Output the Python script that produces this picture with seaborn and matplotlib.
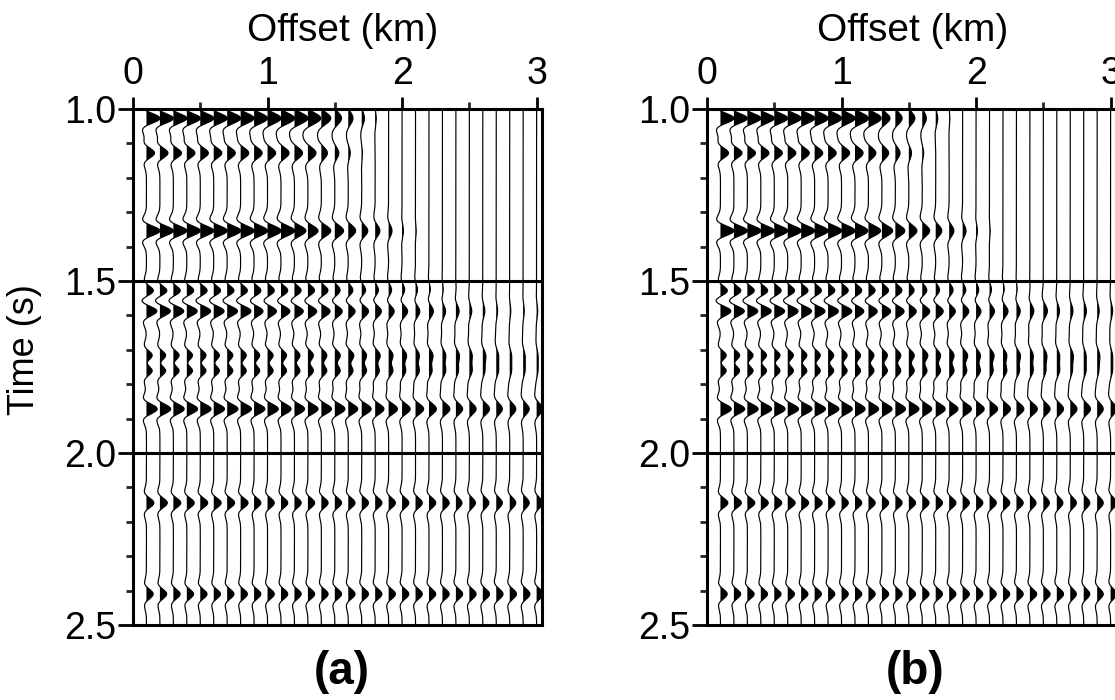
import numpy as np
import pandas as pd
import matplotlib
matplotlib.use("Agg")
import matplotlib.pyplot as plt
import seaborn as sns
from matplotlib.ticker import MultipleLocator

# ---------------------------------------------------------------------------
# Gather geometry
# ---------------------------------------------------------------------------
offsets_km = [0.1, 0.2, 0.3, 0.4, 0.5, 0.6, 0.7, 0.8, 0.9, 1.0,
              1.1, 1.2, 1.3, 1.4, 1.5, 1.6, 1.7, 1.8, 1.9, 2.0,
              2.1, 2.2, 2.3, 2.4, 2.5, 2.6, 2.7, 2.8, 2.9, 3.0]

# Reflection events: zero-offset time (s) and stacking velocity (km/s)
event_times_s = [1.027, 1.128, 1.354, 1.529, 1.587, 1.718, 1.759, 1.872, 2.145, 2.410]
event_velocity = [1.7, 1.7, 1.8, 1.8, 1.8, 1.8, 1.8, 2.3, 2.6, 2.8]

# Peak amplitude of each event on each trace (units of trace spacing)
amp_a = [
    [1.0, 1.0, 1.0, 1.0, 1.0, 1.0, 1.0, 1.0, 1.0, 1.0, 1.0, 1.0, 0.95, 0.7, 0.5,
     0.35, 0.2, 0.08, 0.0, 0.0, 0.0, 0.0, 0.0, 0.0, 0.0, 0.0, 0.0, 0.0, 0.0, 0.0],
    [0.6, 0.6, 0.6, 0.6, 0.6, 0.6, 0.6, 0.6, 0.6, 0.6, 0.6, 0.6, 0.6, 0.45, 0.3,
     0.15, 0.05, 0.0, 0.0, 0.0, 0.0, 0.0, 0.0, 0.0, 0.0, 0.0, 0.0, 0.0, 0.0, 0.0],
    [1.0, 1.0, 1.0, 1.0, 1.0, 1.0, 1.0, 1.0, 1.0, 1.0, 1.0, 0.85, 0.75, 0.7, 0.65,
     0.55, 0.45, 0.35, 0.25, 0.1, 0.05, 0.0, 0.0, 0.0, 0.0, 0.0, 0.0, 0.0, 0.0, 0.0],
    [0.55, 0.55, 0.55, 0.55, 0.55, 0.55, 0.55, 0.55, 0.55, 0.55, 0.55, 0.55, 0.55, 0.55, 0.45,
     0.4, 0.35, 0.3, 0.28, 0.25, 0.2, 0.15, 0.1, 0.05, 0.0, 0.0, 0.0, 0.0, 0.0, 0.0],
    [0.8, 0.8, 0.8, 0.8, 0.8, 0.8, 0.8, 0.8, 0.7, 0.7, 0.7, 0.7, 0.7, 0.7, 0.6,
     0.55, 0.55, 0.5, 0.45, 0.45, 0.35, 0.35, 0.25, 0.25, 0.18, 0.15, 0.1, 0.08, 0.08, 0.08],
    [0.55, 0.55, 0.55, 0.55, 0.55, 0.55, 0.55, 0.55, 0.55, 0.55, 0.55, 0.55, 0.55, 0.55, 0.55,
     0.55, 0.5, 0.5, 0.45, 0.45, 0.4, 0.4, 0.35, 0.35, 0.3, 0.3, 0.25, 0.2, 0.2, 0.15],
    [0.55, 0.55, 0.55, 0.55, 0.55, 0.55, 0.55, 0.55, 0.55, 0.55, 0.55, 0.55, 0.55, 0.55, 0.55,
     0.5, 0.5, 0.45, 0.45, 0.4, 0.4, 0.35, 0.35, 0.3, 0.3, 0.25, 0.25, 0.2, 0.2, 0.15],
    [0.8, 0.8, 0.8, 0.8, 0.8, 0.8, 0.8, 0.8, 0.8, 0.8, 0.75, 0.75, 0.75, 0.75, 0.75,
     0.7, 0.7, 0.65, 0.65, 0.6, 0.6, 0.55, 0.55, 0.5, 0.5, 0.5, 0.45, 0.45, 0.45, 0.45],
    [0.55, 0.55, 0.55, 0.55, 0.55, 0.55, 0.55, 0.55, 0.5, 0.5, 0.5, 0.5, 0.5, 0.5, 0.5,
     0.5, 0.5, 0.5, 0.5, 0.5, 0.5, 0.5, 0.5, 0.45, 0.45, 0.45, 0.45, 0.45, 0.45, 0.45],
    [0.5, 0.5, 0.5, 0.5, 0.5, 0.5, 0.5, 0.5, 0.5, 0.5, 0.5, 0.5, 0.5, 0.5, 0.5,
     0.5, 0.5, 0.5, 0.5, 0.5, 0.5, 0.5, 0.5, 0.5, 0.5, 0.5, 0.5, 0.5, 0.5, 0.5],
]

amp_b = [
    [1.0, 1.0, 1.0, 1.0, 1.0, 1.0, 1.0, 1.0, 1.0, 1.0, 1.0, 0.95, 0.6, 0.5, 0.45,
     0.3, 0.15, 0.05, 0.0, 0.0, 0.0, 0.0, 0.0, 0.0, 0.0, 0.0, 0.0, 0.0, 0.0, 0.0],
    [0.6, 0.6, 0.6, 0.6, 0.6, 0.6, 0.6, 0.6, 0.6, 0.6, 0.6, 0.55, 0.5, 0.35, 0.2,
     0.1, 0.0, 0.0, 0.0, 0.0, 0.0, 0.0, 0.0, 0.0, 0.0, 0.0, 0.0, 0.0, 0.0, 0.0],
    [1.0, 1.0, 1.0, 1.0, 1.0, 1.0, 1.0, 1.0, 1.0, 1.0, 0.95, 0.9, 0.8, 0.7, 0.6,
     0.55, 0.45, 0.35, 0.25, 0.1, 0.05, 0.0, 0.0, 0.0, 0.0, 0.0, 0.0, 0.0, 0.0, 0.0],
    [0.55, 0.55, 0.55, 0.55, 0.55, 0.55, 0.55, 0.55, 0.55, 0.55, 0.55, 0.55, 0.55, 0.55, 0.45,
     0.4, 0.35, 0.35, 0.3, 0.25, 0.2, 0.15, 0.1, 0.05, 0.0, 0.0, 0.0, 0.0, 0.0, 0.0],
    [0.8, 0.8, 0.8, 0.8, 0.8, 0.8, 0.8, 0.8, 0.8, 0.8, 0.7, 0.7, 0.7, 0.7, 0.6,
     0.6, 0.6, 0.5, 0.5, 0.4, 0.4, 0.4, 0.3, 0.3, 0.3, 0.2, 0.2, 0.2, 0.15, 0.15],
    [0.55, 0.55, 0.55, 0.55, 0.55, 0.55, 0.55, 0.55, 0.55, 0.55, 0.55, 0.55, 0.55, 0.55, 0.55,
     0.55, 0.5, 0.5, 0.5, 0.45, 0.45, 0.4, 0.4, 0.35, 0.35, 0.3, 0.3, 0.25, 0.25, 0.2],
    [0.55, 0.55, 0.55, 0.55, 0.55, 0.55, 0.55, 0.55, 0.55, 0.55, 0.55, 0.55, 0.55, 0.55, 0.55,
     0.5, 0.5, 0.5, 0.45, 0.45, 0.4, 0.4, 0.35, 0.35, 0.3, 0.3, 0.25, 0.25, 0.2, 0.2],
    [0.8, 0.8, 0.8, 0.8, 0.8, 0.8, 0.8, 0.8, 0.8, 0.8, 0.75, 0.75, 0.75, 0.75, 0.75,
     0.7, 0.7, 0.65, 0.65, 0.6, 0.6, 0.55, 0.55, 0.55, 0.5, 0.5, 0.5, 0.5, 0.45, 0.45],
    [0.55, 0.55, 0.55, 0.55, 0.55, 0.55, 0.55, 0.55, 0.5, 0.5, 0.5, 0.5, 0.5, 0.5, 0.5,
     0.5, 0.5, 0.5, 0.5, 0.5, 0.5, 0.5, 0.5, 0.45, 0.45, 0.45, 0.45, 0.45, 0.45, 0.45],
    [0.5, 0.5, 0.5, 0.5, 0.5, 0.5, 0.5, 0.5, 0.5, 0.5, 0.5, 0.5, 0.5, 0.5, 0.5,
     0.5, 0.5, 0.5, 0.5, 0.5, 0.5, 0.5, 0.5, 0.5, 0.5, 0.5, 0.45, 0.45, 0.45, 0.45],
]

panel_labels = ["(a)", "(b)"]
x_ticks = [0, 1, 2, 3]
y_ticks = [1.0, 1.5, 2.0, 2.5]

# ---------------------------------------------------------------------------
# Trace synthesis: zero-phase wavelet with soft side lobes,
# stretched with offset (NMO stretch)
# ---------------------------------------------------------------------------
PEAK_HZ = 12.0
SIDE_LOBE = 0.75
TRACE_GAP = 0.1
t = np.arange(1.0, 2.5005, 0.0005)


def wavelet(tau, f):
    a = (np.pi * f * tau) ** 2
    return (1.0 - 2.0 * SIDE_LOBE * a) * np.exp(-a)


def build_gather(amps):
    rows = []
    for k, x in enumerate(offsets_km):
        trace = np.zeros_like(t)
        for e, t0 in enumerate(event_times_s):
            a = amps[e][k]
            if a == 0:
                continue
            stretch = np.sqrt(1.0 + (x / (event_velocity[e] * t0)) ** 2)
            trace += a * wavelet((t - t0) / stretch, PEAK_HZ)
        rows.append(pd.DataFrame({"trace": k, "offset": x, "time": t,
                                  "xpos": x + TRACE_GAP * trace,
                                  "amp": trace}))
    return pd.concat(rows, ignore_index=True)


# ---------------------------------------------------------------------------
# Figure
# ---------------------------------------------------------------------------
sns.set_theme(style="white")
plt.rcParams["font.family"] = ["Liberation Sans", "DejaVu Sans"]

W, H = 1115, 700
fig = plt.figure(figsize=(W / 100, H / 100), dpi=100)
fig.patch.set_facecolor("white")

ax_boxes = [(133, 109, 409, 516), (707, 109, 409, 516)]
title_cx = [343, 913]
label_cx = [342, 915]

for i, (amps, box) in enumerate(zip([amp_a, amp_b], ax_boxes)):
    l, tp, w, h = box
    ax = fig.add_axes([l / W, 1 - (tp + h) / H, w / W, h / H])
    ax.set_facecolor("white")
    df = build_gather(amps)

    # filled positive lobes
    for k, g in df.groupby("trace"):
        ax.fill_betweenx(g["time"].values, g["offset"].values, g["xpos"].values,
                         where=g["amp"].values > 0, color="black", lw=0,
                         interpolate=True)
    # wiggle lines
    sns.lineplot(data=df, x="xpos", y="time", units="trace", estimator=None,
                 orient="y", sort=False, color="black", lw=0.85, ax=ax,
                 legend=False)

    ax.set_xlim(0, 3.04)
    ax.set_ylim(2.5, 1.0)
    for yline in (1.5, 2.0):
        ax.axhline(yline, color="black", lw=2.2, zorder=5)

    ax.xaxis.tick_top()
    ax.set_xticks(x_ticks)
    ax.set_xticklabels([str(v) for v in x_ticks])
    ax.xaxis.set_minor_locator(MultipleLocator(0.5))
    ax.set_yticks(y_ticks)
    ax.set_yticklabels([f"{v:.1f}" for v in y_ticks])
    ax.yaxis.set_minor_locator(MultipleLocator(0.1))
    ax.tick_params(axis="x", which="major", direction="out", length=9, width=2,
                   labelsize=27, pad=3, top=True, bottom=False, colors="black")
    ax.tick_params(axis="x", which="minor", direction="out", length=5, width=2,
                   top=True, bottom=False)
    ax.tick_params(axis="y", which="major", direction="out", length=11, width=2,
                   labelsize=27, pad=1, left=True, colors="black")
    ax.tick_params(axis="y", which="minor", direction="out", length=5, width=2,
                   left=True)
    ax.set_xlabel("")
    ax.set_ylabel("")
    for s in ax.spines.values():
        s.set_color("black")
        s.set_linewidth(2.2)

    fig.text(title_cx[i] / W, 1 - 31 / H, "Offset (km)", ha="center",
             va="center", fontsize=28, color="black")
    fig.text(label_cx[i] / W, 1 - 672 / H, panel_labels[i], ha="center",
             va="center", fontsize=33, fontweight="bold", color="black")

fig.text(24 / W, 1 - 350 / H, "Time (s)", rotation=90, ha="center",
         va="center", fontsize=26, color="black")

fig.savefig("out.png", dpi=100, facecolor="white")
